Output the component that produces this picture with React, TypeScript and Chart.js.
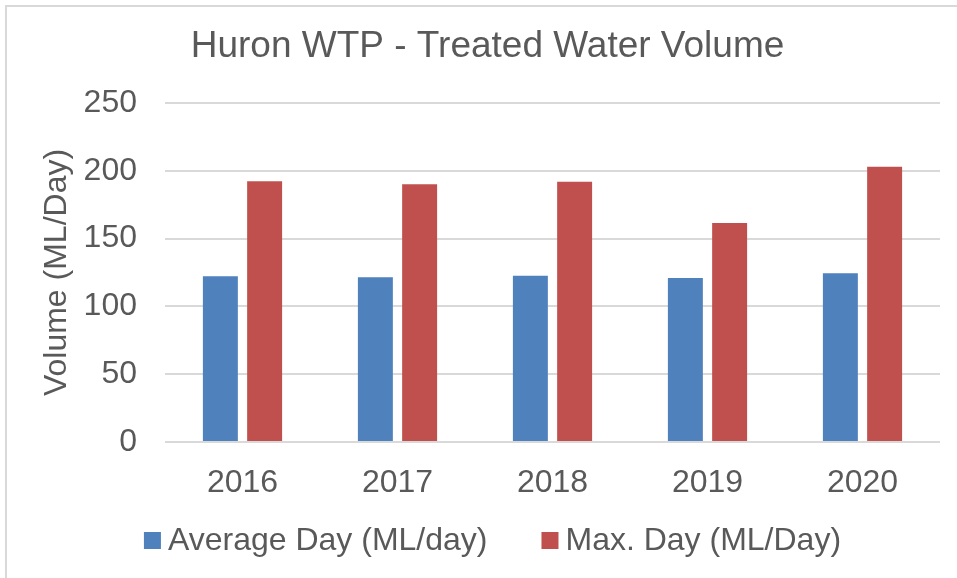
import React, { useEffect, useRef } from "react";
import { Chart, registerables } from "chart.js";

Chart.register(...registerables);

const years = ["2016", "2017", "2018", "2019", "2020"];
const averageDay = [122.2, 121.5, 122.6, 121.0, 124.4];
const maxDay = [192.3, 190.0, 192.0, 161.5, 203.0];
const seriesLabels = ["Average Day (ML/day)", "Max. Day (ML/Day)"];
const seriesColors = ["#4f81bd", "#c0504d"];
const chartTitle = "Huron WTP - Treated Water Volume";
const yAxisTitle = "Volume (ML/Day)";

const FONT = "'Liberation Sans', Arial, sans-serif";
const TEXT = "#595959";

const legendPlugin = {
  id: "customLegend",
  afterDraw(chart: any) {
    const ctx = chart.ctx;
    ctx.save();
    ctx.font = `32px ${FONT}`;
    const box = 17;
    const gapBoxText = 7;
    const gapItems = 54;
    const items = chart.data.datasets.map((d: any) => ({
      label: d.label,
      color: d.backgroundColor,
      w: ctx.measureText(d.label).width,
    }));
    const total =
      items.reduce((s: number, it: any) => s + box + gapBoxText + it.w, 0) +
      gapItems * (items.length - 1);
    let x = 492.5 - total / 2;
    const baseline = 550;
    for (const it of items) {
      ctx.fillStyle = it.color;
      ctx.fillRect(x, 532, box, box);
      x += box + gapBoxText;
      ctx.fillStyle = TEXT;
      ctx.textBaseline = "alphabetic";
      ctx.textAlign = "left";
      ctx.fillText(it.label, x, baseline);
      x += it.w + gapItems;
    }
    ctx.restore();
  },
};

export default function App() {
  const ref = useRef<HTMLCanvasElement | null>(null);
  useEffect(() => {
    if (!ref.current) return;
    const chart = new Chart(ref.current, {
      type: "bar",
      data: {
        labels: years,
        datasets: [
          {
            label: seriesLabels[0],
            data: averageDay,
            backgroundColor: seriesColors[0],
            categoryPercentage: 0.571,
            barPercentage: 0.79,
          },
          {
            label: seriesLabels[1],
            data: maxDay,
            backgroundColor: seriesColors[1],
            categoryPercentage: 0.571,
            barPercentage: 0.79,
          },
        ],
      },
      options: {
        animation: false,
        responsive: false,
        maintainAspectRatio: false,
        devicePixelRatio: 1,
        layout: { padding: { left: 35, right: 17, top: 0, bottom: 0 } },
        plugins: {
          legend: { display: false },
          tooltip: { enabled: false },
          title: {
            display: true,
            text: chartTitle,
            color: TEXT,
            font: { family: FONT, size: 37, weight: "normal", lineHeight: 1.2 },
            padding: { top: 25, bottom: 33.6 },
          },
        },
        scales: {
          x: {
            grid: { display: false },
            border: { display: false },
            ticks: {
              color: TEXT,
              font: { family: FONT, size: 32 },
              padding: 14,
              maxRotation: 0,
            },
            afterFit(scale: any) {
              scale.height = 136;
            },
          },
          y: {
            min: 0,
            max: 250,
            ticks: {
              stepSize: 50,
              color: TEXT,
              font: { family: FONT, size: 32 },
              padding: 28,
            },
            grid: { color: "#d9d9d9", lineWidth: 2, drawTicks: false },
            border: { display: false },
            title: {
              display: true,
              text: yAxisTitle,
              color: TEXT,
              font: { family: FONT, size: 32 },
              padding: { top: 3, bottom: 0 },
            },
            afterFit(scale: any) {
              scale.width = 130;
            },
          },
        },
      },
      plugins: [legendPlugin],
    });
    return () => chart.destroy();
  }, []);

  return (
    <div
      style={{
        position: "fixed",
        left: 0,
        top: 0,
        width: 957,
        height: 578,
        background: "#ffffff",
        overflow: "hidden",
      }}
    >
      <canvas ref={ref} width={957} height={578} style={{ position: "absolute", left: 0, top: 0 }} />
      <div
        style={{
          position: "absolute",
          left: 5,
          top: 5,
          width: 960,
          height: 580,
          borderLeft: "2px solid #d9d9d9",
          borderTop: "2px solid #d9d9d9",
          pointerEvents: "none",
        }}
      />
    </div>
  );
}
